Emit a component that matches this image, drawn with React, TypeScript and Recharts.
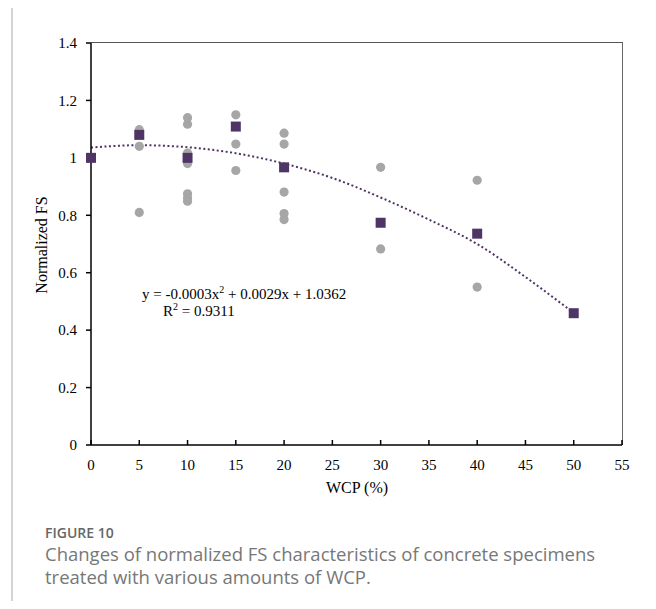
import { ComposedChart, Scatter, Line, XAxis, YAxis } from "recharts";

// individual specimens (grey dots)
const specX = [5, 5, 5, 10, 10, 10, 10, 10, 10, 10, 15, 15, 15, 20, 20, 20, 20, 20, 30, 30, 40, 40];
const specY = [1.098, 1.04, 0.81, 1.14, 1.117, 1.017, 0.98, 0.875, 0.86, 0.849, 1.15, 1.048, 0.956, 1.086, 1.048, 0.881, 0.806, 0.785, 0.967, 0.683, 0.922, 0.55];

// averages (purple squares)
const avgX = [0, 5, 10, 15, 20, 30, 40, 50];
const avgY = [1.0, 1.08, 1.0, 1.109, 0.967, 0.774, 0.736, 0.459];

// polynomial trendline
const trendX = [0, 5, 10, 15, 20, 25, 30, 35, 40, 45, 50];
const trendY = [1.036, 1.044, 1.037, 1.016, 0.98, 0.93, 0.862, 0.785, 0.7, 0.585, 0.46];

const xTicks = [0, 5, 10, 15, 20, 25, 30, 35, 40, 45, 50, 55];
const yTicks = [0, 0.2, 0.4, 0.6, 0.8, 1, 1.2, 1.4];

const specimens = specX.map((x, i) => ({ x, y: specY[i] }));
const averages = avgX.map((x, i) => ({ x, y: avgY[i] }));
const trend = trendX.map((x, i) => ({ x, y: trendY[i] }));

const serif = "'Liberation Serif', 'Times New Roman', serif";
const sans = "'Open Sans', sans-serif";
const purple = "#4f3566";

const Dot = (p: any) => <circle cx={p.cx} cy={p.cy} r={4.6} fill="#a6a6a6" />;
const Sq = (p: any) => <rect x={p.cx - 5} y={p.cy - 5} width={10} height={10} fill={purple} />;

export default function App() {
  return (
    <div style={{ position: "relative", width: 656, height: 609, margin: -8, overflow: "hidden", background: "#fff" }}>
      <div
        style={{
          position: "absolute",
          left: 11,
          top: 4,
          width: 640,
          height: 640,
          border: "2px solid #d4d4d4",
        }}
      />
      {/* plot frame, top and right edges */}
      <div
        style={{
          position: "absolute",
          left: 91,
          top: 42.25,
          width: 531.75,
          height: 403,
          boxSizing: "border-box",
          borderTop: "1.5px solid #555",
          borderRight: "1.5px solid #666",
        }}
      />
      <ComposedChart
        width={656}
        height={609}
        margin={{ top: 43, right: 34, bottom: 134, left: 0 }}
        style={{ position: "absolute", left: 0, top: 0 }}
      >
        <XAxis
          xAxisId="b"
          type="number"
          dataKey="x"
          domain={[0, 55]}
          ticks={xTicks}
          interval={0}
          height={30}
          tickSize={-5}
          tickMargin={19}
          stroke="#000"
          strokeWidth={1.5}
          tick={{ fill: "#000", fontFamily: serif, fontSize: 15 }}
        />
        <YAxis
          yAxisId="l"
          type="number"
          dataKey="y"
          domain={[0, 1.4]}
          ticks={yTicks}
          interval={0}
          width={91}
          tickSize={5}
          tickMargin={9}
          stroke="#000"
          strokeWidth={1.5}
          tickFormatter={(v: number) => String(Number(v.toFixed(1)))}
          tick={{ fill: "#000", fontFamily: serif, fontSize: 15 }}
        />
        <Scatter xAxisId="b" yAxisId="l" data={specimens} shape={Dot} isAnimationActive={false} />
        <Line
          xAxisId="b"
          yAxisId="l"
          data={trend}
          dataKey="y"
          type="monotone"
          stroke={purple}
          strokeWidth={2}
          strokeDasharray="2 2.5"
          dot={false}
          activeDot={false}
          isAnimationActive={false}
        />
        <Scatter xAxisId="b" yAxisId="l" data={averages} shape={Sq} isAnimationActive={false} />
      </ComposedChart>

      <div style={{ position: "absolute", left: 142, top: 284, fontFamily: serif, fontSize: 15, color: "#000", whiteSpace: "nowrap" }}>
        y = -0.0003x<sup style={{ fontSize: 10 }}>2</sup> + 0.0029x + 1.0362
      </div>
      <div style={{ position: "absolute", left: 163, top: 301, fontFamily: serif, fontSize: 15, color: "#000", whiteSpace: "nowrap" }}>
        R<sup style={{ fontSize: 10 }}>2</sup> = 0.9311
      </div>
      <div
        style={{
          position: "absolute",
          left: 42,
          top: 245,
          transform: "translate(-50%, -50%) rotate(-90deg)",
          fontFamily: serif,
          fontSize: 16,
          whiteSpace: "nowrap",
        }}
      >
        Normalized FS
      </div>
      <div style={{ position: "absolute", left: 357, top: 488, transform: "translate(-50%, -50%)", fontFamily: serif, fontSize: 16, whiteSpace: "nowrap" }}>
        WCP (%)
      </div>

      <div style={{ position: "absolute", left: 45, top: 526, fontFamily: sans, fontSize: 14, lineHeight: "14px", fontWeight: 600, color: "#666" }}>
        FIGURE 10
      </div>
      <div style={{ position: "absolute", left: 45, top: 542, width: 610, fontFamily: sans, fontSize: 18.5, lineHeight: "23px", color: "#777", whiteSpace: "nowrap" }}>
        Changes of normalized FS characteristics of concrete specimens
        <br />
        treated with various amounts of WCP.
      </div>
    </div>
  );
}
